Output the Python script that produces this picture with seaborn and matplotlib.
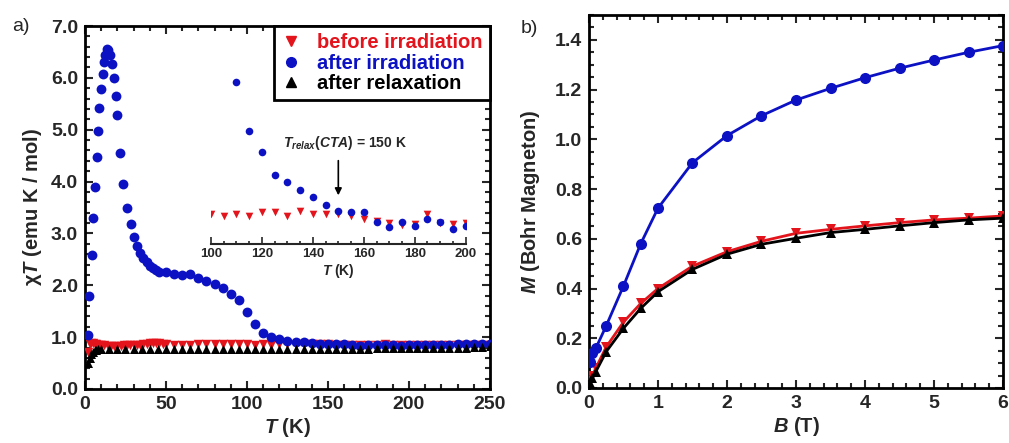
import matplotlib
matplotlib.use("Agg")
import matplotlib.pyplot as plt
from matplotlib.ticker import MultipleLocator, FormatStrFormatter
from matplotlib.lines import Line2D
import pandas as pd
import seaborn as sns

# ---------------- chi*T versus temperature ----------------
T_before = [2, 3, 4, 5, 6, 7, 8, 9, 10, 12, 14, 16, 18, 20, 22, 24, 26, 28, 30,
            32, 34, 36, 38, 40, 42, 44, 46, 48, 50, 55, 60, 65, 70, 75, 80, 85,
            90, 95, 100, 105, 110, 115, 120, 125, 130, 135, 140, 145, 150, 155,
            160, 165, 170, 175, 180, 185, 190, 195, 200, 205, 210, 215, 220,
            225, 230, 235, 240, 245, 250]
chiT_before = [0.72, 0.86, 0.88, 0.88, 0.87, 0.86, 0.85, 0.85, 0.84, 0.84, 0.83,
               0.83, 0.83, 0.83, 0.83, 0.84, 0.84, 0.84, 0.84, 0.85, 0.85, 0.86,
               0.87, 0.88, 0.88, 0.88, 0.88, 0.87, 0.86, 0.85, 0.85, 0.85, 0.86,
               0.86, 0.86, 0.86, 0.86, 0.86, 0.860, 0.857, 0.860, 0.857, 0.863,
               0.862, 0.857, 0.865, 0.859, 0.859, 0.860, 0.857, 0.852, 0.848,
               0.844, 0.841, 0.843, 0.860, 0.844, 0.843, 0.845, 0.85, 0.85,
               0.85, 0.85, 0.85, 0.85, 0.85, 0.85, 0.85, 0.85]

T_irr = [2.0, 2.7, 4.1, 5.1, 6.0, 7.2, 8.0, 8.8, 10.1, 10.9, 11.5, 12.5, 13.5,
         14.5, 15.5, 16.9, 17.9, 19.1, 20.0, 21.8, 23.6, 25.7, 28.2, 30.1, 31.9,
         34, 36, 38, 40, 42, 44, 46, 50, 55, 60, 65, 70, 75, 80, 85, 90, 95,
         100, 105, 110, 115, 120, 125, 130, 135, 140, 145, 150, 155, 160, 165,
         170, 175, 180, 185, 190, 195, 200, 205, 210, 215, 220, 225, 230, 235,
         240, 245, 250]
chiT_irr = [1.05, 1.80, 2.58, 3.29, 3.90, 4.47, 4.97, 5.41, 5.79, 6.08, 6.31,
            6.45, 6.55, 6.53, 6.45, 6.26, 5.99, 5.65, 5.28, 4.55, 3.95, 3.49,
            3.18, 2.94, 2.76, 2.63, 2.53, 2.45, 2.38, 2.33, 2.29, 2.26, 2.25,
            2.21, 2.19, 2.21, 2.14, 2.09, 2.03, 1.94, 1.84, 1.71, 1.48, 1.26,
            1.080, 0.997, 0.963, 0.924, 0.912, 0.899, 0.888, 0.874, 0.865,
            0.862, 0.863, 0.847, 0.838, 0.847, 0.840, 0.852, 0.847, 0.835,
            0.840, 0.845, 0.850, 0.850, 0.855, 0.855, 0.860, 0.860, 0.865,
            0.870, 0.865]

T_relax = [2, 3, 4, 5, 6, 7, 8, 10, 15, 20, 25, 30, 35, 40, 45, 50, 55, 60, 65,
           70, 75, 80, 85, 90, 95, 100, 105, 110, 115, 120, 125, 130, 135, 140,
           145, 150, 155, 160, 165, 170, 175, 180, 185, 190, 195, 200, 205, 210,
           215, 220, 225, 230, 235, 240, 245, 250]
chiT_relax = [0.50, 0.60, 0.68, 0.72, 0.75, 0.76, 0.77, 0.77, 0.77, 0.77, 0.77,
              0.77, 0.77, 0.77, 0.77, 0.77, 0.77, 0.77, 0.77, 0.77, 0.77, 0.78,
              0.78, 0.78, 0.78, 0.78, 0.78, 0.78, 0.78, 0.78, 0.78, 0.78, 0.78,
              0.78, 0.78, 0.78, 0.78, 0.78, 0.78, 0.78, 0.78, 0.79, 0.79, 0.79,
              0.79, 0.79, 0.79, 0.79, 0.80, 0.80, 0.80, 0.80, 0.80, 0.81, 0.81,
              0.82]

# ---------------- magnetisation versus field ----------------
B_field = [0.02, 0.05, 0.1, 0.25, 0.5, 0.75, 1.0, 1.5, 2.0, 2.5, 3.0, 3.5,
           4.0, 4.5, 5.0, 5.5, 6.0]
M_before = [0.03, 0.05, 0.08, 0.165, 0.265, 0.34, 0.40, 0.49, 0.548, 0.59,
            0.622, 0.638, 0.652, 0.665, 0.676, 0.683, 0.692]
M_irr = [0.105, 0.14, 0.16, 0.25, 0.41, 0.58, 0.723, 0.906, 1.015, 1.095,
         1.158, 1.205, 1.248, 1.286, 1.319, 1.35, 1.377]
M_relax = [0.02, 0.04, 0.066, 0.146, 0.24, 0.32, 0.387, 0.477, 0.538, 0.578,
           0.602, 0.625, 0.638, 0.652, 0.665, 0.676, 0.683]

labels = ["before irradiation", "after irradiation", "after relaxation"]

RED = "#e3141c"
BLUE = "#0c12c4"
BLACK = "#000000"

sns.set_style("ticks")
plt.rcParams["font.family"] = ["Liberation Sans", "DejaVu Sans"]
plt.rcParams["font.weight"] = "bold"
plt.rcParams["mathtext.fontset"] = "custom"
plt.rcParams["mathtext.it"] = "Liberation Sans:italic:bold"
plt.rcParams["mathtext.rm"] = "Liberation Sans:bold"
plt.rcParams["mathtext.bf"] = "Liberation Sans:bold"

df_before = pd.DataFrame({"T": T_before, "chiT": chiT_before})
df_irr = pd.DataFrame({"T": T_irr, "chiT": chiT_irr})
df_relax = pd.DataFrame({"T": T_relax, "chiT": chiT_relax})
df_mag = pd.DataFrame({"B": B_field, "before": M_before, "irr": M_irr,
                       "relax": M_relax})

fig = plt.figure(figsize=(10.09, 4.43), dpi=100)
ax1 = fig.add_axes([0.0842, 0.1219, 0.4014, 0.8194])
ax2 = fig.add_axes([0.5837, 0.1242, 0.4104, 0.8419])

TICK_FS = 14
LABEL_FS = 14.5


def style_axes(ax):
    for sp in ax.spines.values():
        sp.set_visible(True)
        sp.set_linewidth(2)
        sp.set_color("black")
    ax.tick_params(which="both", direction="in", top=True, right=True,
                   width=1.5, labelsize=TICK_FS, pad=5)
    ax.tick_params(which="major", length=6)
    ax.tick_params(which="minor", length=3.5)
    for lab in ax.get_xticklabels() + ax.get_yticklabels():
        lab.set_fontweight("bold")


# ---- panel a ----
sns.scatterplot(data=df_before, x="T", y="chiT", marker="v", s=46, color=RED,
                linewidth=0, ax=ax1, legend=False, zorder=3)
sns.scatterplot(data=df_irr, x="T", y="chiT", marker="o", s=50, color=BLUE,
                linewidth=0, ax=ax1, legend=False, zorder=4)
sns.scatterplot(data=df_relax, x="T", y="chiT", marker="^", s=42, color=BLACK,
                linewidth=0, ax=ax1, legend=False, zorder=5)
ax1.set_xlim(0, 250)
ax1.set_ylim(0, 7)
ax1.xaxis.set_major_locator(MultipleLocator(50))
ax1.xaxis.set_minor_locator(MultipleLocator(10))
ax1.yaxis.set_major_locator(MultipleLocator(1))
ax1.yaxis.set_minor_locator(MultipleLocator(0.2))
ax1.yaxis.set_major_formatter(FormatStrFormatter("%.1f"))
ax1.set_xlabel("$T$ (K)", fontsize=LABEL_FS, fontweight="bold", labelpad=2)
ax1.set_ylabel("χ$T$ (emu K / mol)", fontsize=LABEL_FS, fontweight="bold",
               labelpad=5)
style_axes(ax1)

handles = [
    Line2D([], [], linestyle="none", marker="v", color=RED, markersize=7),
    Line2D([], [], linestyle="none", marker="o", color=BLUE, markersize=7),
    Line2D([], [], linestyle="none", marker="^", color=BLACK, markersize=7),
]
leg = ax1.legend(handles, labels, loc="upper right", borderaxespad=0,
                 fancybox=False, edgecolor="black", framealpha=1,
                 prop={"size": 14.5, "weight": "bold"}, handlelength=1.0,
                 handletextpad=0.8, labelspacing=0.08, borderpad=0.35)
leg.get_frame().set_linewidth(2)
for txt, col in zip(leg.get_texts(), [RED, BLUE, BLACK]):
    txt.set_color(col)
leg.set_zorder(10)

# ---- inset: 100-200 K detail ----
axin = fig.add_axes([0.2091, 0.4485, 0.2524, 0.416])
axin.patch.set_alpha(0)
sns.scatterplot(data=df_before, x="T", y="chiT", marker="v", s=30, color=RED,
                linewidth=0, ax=axin, legend=False, zorder=3)
sns.scatterplot(data=df_irr, x="T", y="chiT", marker="o", s=30, color=BLUE,
                linewidth=0, ax=axin, legend=False, zorder=4)
axin.set_xlim(100, 200)
axin.set_ylim(0.809, 1.116)
for side in ["top", "left", "right"]:
    axin.spines[side].set_visible(False)
axin.spines["bottom"].set_linewidth(1.5)
axin.set_yticks([])
axin.xaxis.set_major_locator(MultipleLocator(20))
axin.xaxis.set_minor_locator(MultipleLocator(5))
axin.tick_params(axis="x", which="both", direction="in", width=1.2,
                 labelsize=9.5, pad=3)
axin.tick_params(axis="x", which="major", length=5)
axin.tick_params(axis="x", which="minor", length=2.5)
for lab in axin.get_xticklabels():
    lab.set_fontweight("bold")
axin.set_xlabel("$T$ (K)", fontsize=10, fontweight="bold", labelpad=1)
axin.set_ylabel("")
axin.annotate("", xy=(150, 0.886), xytext=(150, 0.953),
              arrowprops=dict(arrowstyle="-|>", color="black", lw=1.2,
                              mutation_scale=10))
axin.text(128.3, 0.978, "$T_{relax}(CTA)$ = 150 K", fontsize=10,
          fontweight="bold", ha="left", va="center")

# ---- panel b ----
sns.lineplot(data=df_mag, x="B", y="before", color=RED, marker="v",
             markersize=6.5, markeredgewidth=0, linewidth=2, ax=ax2, zorder=3)
sns.lineplot(data=df_mag, x="B", y="relax", color=BLACK, marker="^",
             markersize=6.5, markeredgewidth=0, linewidth=2, ax=ax2, zorder=4)
sns.lineplot(data=df_mag, x="B", y="irr", color=BLUE, marker="o",
             markersize=8, markeredgewidth=0, linewidth=2, ax=ax2, zorder=5)
ax2.set_xlim(0, 6)
ax2.set_ylim(0, 1.5)
ax2.xaxis.set_major_locator(MultipleLocator(1))
ax2.xaxis.set_minor_locator(MultipleLocator(0.2))
ax2.yaxis.set_major_locator(MultipleLocator(0.2))
ax2.yaxis.set_minor_locator(MultipleLocator(0.05))
ax2.yaxis.set_major_formatter(FormatStrFormatter("%.1f"))
ax2.set_yticks([0.0, 0.2, 0.4, 0.6, 0.8, 1.0, 1.2, 1.4])
ax2.set_xlabel("$B$ (T)", fontsize=LABEL_FS, fontweight="bold", labelpad=2)
ax2.set_ylabel("$M$ (Bohr Magneton)", fontsize=LABEL_FS, fontweight="bold",
               labelpad=9)
style_axes(ax2)

fig.text(0.012, 0.941, "a)", fontsize=14, fontweight="normal", va="center")
fig.text(0.516, 0.935, "b)", fontsize=14, fontweight="normal", va="center")

fig.savefig("out.png", dpi=100)
